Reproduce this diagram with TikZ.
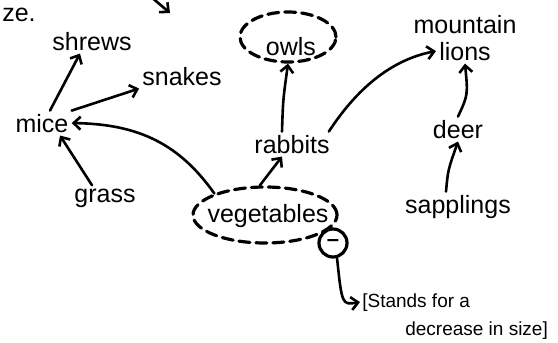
\documentclass[tikz,border=0pt]{standalone}
\usepackage{fontspec}
\setmainfont{Liberation Sans}
\usetikzlibrary{
    arrows.meta,
    shapes.geometric
}

\begin{document}
\begin{tikzpicture}[x=1pt,y=-1pt,line width=2.6pt,line cap=round,
    >={Straight Barb[length=7pt,width=13pt]},
    lbl/.style={anchor=base,inner sep=2pt,font=\fontsize{25}{27}\selectfont},
    note/.style={anchor=base west,inner sep=1pt,font=\fontsize{19}{21}\selectfont},
    ring/.style={draw,ellipse,line width=3.2pt,dash pattern=on 11pt off 6pt,inner sep=0pt}]
%\draw [help lines,step=20](0,0) grid (558,343);
\useasboundingbox (0,0) rectangle (558,343);
% food chain words
\node [lbl,anchor=base west,inner sep=1pt] (ze) at (0,21) {ze.};
\coordinate (top) at (150,-4);
\node [lbl] (shrews) at (92,50) {shrews};
\node [lbl] (snakes) at (182,85) {snakes};
\node [lbl] (mice) at (42,132) {mice};
\node [lbl] (grass) at (105,202) {grass};
\node [lbl] (owls) at (291,55) {owls};
\node [lbl] (rabbits) at (292,153) {rabbits};
\node [lbl] (vegetables) at (268,222) {vegetables};
\node [lbl] (mountain) at (465,33) {mountain};
\node [lbl] (lions) at (465,60) {lions};
\node [lbl] (deer) at (458,138) {deer};
\node [lbl] (sapplings) at (458,213) {sapplings};
% dashed rings and the minus sign
\node [ring,minimum width=96,minimum height=50] (owlring) at (288,37) {};
\node [ring,minimum width=144,minimum height=56] (vegring) at (265,215) {};
\node [draw,circle,line width=3.2pt,minimum size=28,inner sep=0pt,
       font=\bfseries\fontsize{22}{22}\selectfont] (minus) at (333,243) {\textendash};
\node [note] (stands) at (360,307) {[Stands for a};
\node [note] (decrease) at (403,335) {decrease in size]};
% arrows
\draw [->] (top) -- (170,13);
\draw [->] ([xshift=8pt]mice.north) -- ([xshift=-12pt]shrews.south);
\draw [->] (mice.north east) -- (snakes.south west);
\draw [->] ([xshift=-13pt]grass.north) -- ([xshift=18pt]mice.south);
\draw [->] (vegring.157) .. controls (180,145) and (140,124) .. (mice.east);
\draw [->] (vegring.100) -- ([xshift=-10pt]rabbits.south);
\draw [->] ([xshift=-10pt]rabbits.north) .. controls (283,100) .. (owlring.south);
\draw [->] ([xshift=-4pt]rabbits.north east) .. controls (356,90) and (390,60) .. (lions.west);
\draw [->] (deer.north) .. controls (468,95) .. (lions.south);
\draw [->] ([xshift=-12pt]sapplings.north) .. controls (448,170) .. (deer.south);
\draw [->] (minus.-75) .. controls (342,305) .. (stands.west);
\end{tikzpicture}
\end{document}
